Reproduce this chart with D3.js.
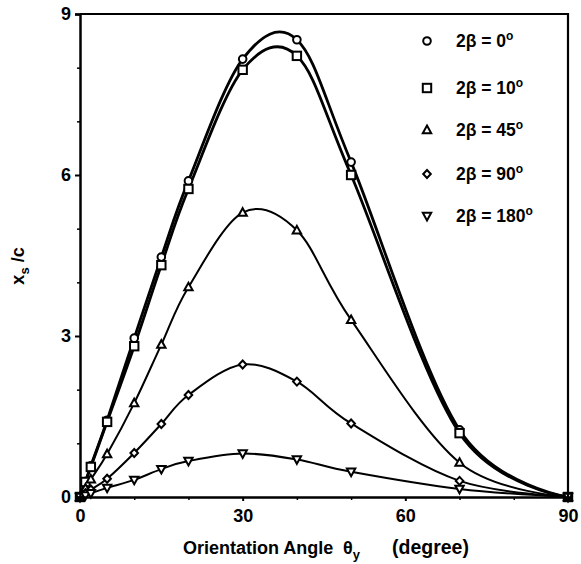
<!DOCTYPE html>
<html><head><meta charset="utf-8">
<script src="https://cdn.jsdelivr.net/npm/d3@7"></script>
<style>body{margin:0;background:#fff}svg{display:block}text{font-family:"Liberation Sans",Arial,sans-serif;font-weight:bold;fill:#000}</style>
</head><body><svg id="c" width="581" height="564"></svg>
<script>
const angles = [0, 1, 2, 5, 10, 15, 20, 30, 40, 50, 70, 90];
const seriesNames = ["2β = 0", "2β = 10", "2β = 45", "2β = 90", "2β = 180"];
const beta0   = [0, 0.29, 0.58, 1.43, 2.96, 4.47, 5.89, 8.16, 8.52, 6.24, 1.25, 0];
const beta10  = [0, 0.28, 0.56, 1.40, 2.81, 4.32, 5.74, 7.96, 8.22, 6.00, 1.19, 0];
const beta45  = [0, 0.16, 0.33, 0.80, 1.75, 2.84, 3.91, 5.30, 4.97, 3.30, 0.64, 0];
const beta90  = [0, 0.07, 0.14, 0.34, 0.82, 1.36, 1.90, 2.47, 2.15, 1.37, 0.30, 0];
const beta180 = [0, 0.03, 0.07, 0.17, 0.32, 0.52, 0.67, 0.81, 0.70, 0.47, 0.15, 0];
const xTicks = [0, 30, 60, 90];
const yTicks = [0, 3, 6, 9];
const xMinor = [10, 20, 40, 50, 70, 80];
const yMinor = [1, 2, 4, 5, 7, 8];

const svg = d3.select("#c");
const x = d3.scaleLinear().domain([0, 90]).range([80, 568]);
const y = d3.scaleLinear().domain([0, 9]).range([497, 14]);

const series = [
  {name: seriesNames[0], vals: beta0, sym: "circle", w: 2.8},
  {name: seriesNames[1], vals: beta10, sym: "square", w: 2.8},
  {name: seriesNames[2], vals: beta45, sym: "triangle", w: 2},
  {name: seriesNames[3], vals: beta90, sym: "diamond", w: 2},
  {name: seriesNames[4], vals: beta180, sym: "tridown", w: 2}
];

function marker(g, sym, cx, cy) {
  if (sym === "circle") g.append("circle").attr("cx", cx).attr("cy", cy).attr("r", 3.8);
  else if (sym === "square") g.append("rect").attr("x", cx-4.2).attr("y", cy-4.2).attr("width", 8.4).attr("height", 8.4);
  else if (sym === "triangle") g.append("path").attr("d", `M${cx},${cy-4.4}L${cx+4.2},${cy+3.2}L${cx-4.2},${cy+3.2}Z`);
  else if (sym === "diamond") g.append("path").attr("d", `M${cx},${cy-4}L${cx+3.8},${cy}L${cx},${cy+4}L${cx-3.8},${cy}Z`);
  else if (sym === "tridown") g.append("path").attr("d", `M${cx},${cy+4.4}L${cx+4.2},${cy-3.2}L${cx-4.2},${cy-3.2}Z`);
}

// curves
const line = d3.line().x(d => x(d[0])).y(d => y(d[1])).curve(d3.curveCardinal.tension(0));
series.forEach(s => {
  const pts = angles.map((a, i) => [a, s.vals[i]]);
  svg.append("path").attr("d", line(pts)).attr("fill", "none").attr("stroke", "#000").attr("stroke-width", s.w);
});
// markers
series.forEach(s => {
  const g = svg.append("g").attr("fill", "#fff").attr("stroke", "#000").attr("stroke-width", 2);
  angles.forEach((a, i) => marker(g, s.sym, x(a), y(s.vals[i])));
});

// frame
svg.append("path").attr("d", `M${x(0)},${y(9)}H${x(90)}V${y(0)}`).attr("fill", "none").attr("stroke", "#000").attr("stroke-width", 2.2);

// axes
const xAxis = svg.append("g").attr("transform", `translate(0,${y(0)})`)
  .call(d3.axisBottom(x).tickValues(xTicks).tickSize(4).tickPadding(8).tickFormat(d3.format("d")));
xAxis.select(".domain").attr("stroke-width", 2.5);
xAxis.selectAll(".tick line").attr("stroke-width", 2);
xAxis.selectAll("text").style("font-size", "18px").attr("fill", "#000");
svg.append("g").attr("transform", `translate(0,${y(0)})`)
  .call(d3.axisBottom(x).tickValues(xMinor).tickSize(3).tickFormat(""))
  .call(g => g.select(".domain").remove())
  .selectAll(".tick line").attr("stroke-width", 1.5);

const yAxis = svg.append("g").attr("transform", `translate(${x(0)},0)`)
  .call(d3.axisLeft(y).tickValues(yTicks).tickSize(5).tickPadding(4).tickFormat(d3.format("d")));
yAxis.select(".domain").attr("stroke-width", 2.5);
yAxis.selectAll(".tick line").attr("stroke-width", 2);
yAxis.selectAll("text").style("font-size", "18px").attr("fill", "#000");
svg.append("g").attr("transform", `translate(${x(0)},0)`)
  .call(d3.axisLeft(y).tickValues(yMinor).tickSize(3).tickFormat(""))
  .call(g => g.select(".domain").remove())
  .selectAll(".tick line").attr("stroke-width", 1.5);

// axis titles
const xt = svg.append("text").attr("x", 183).attr("y", 554).style("font-size", "18px");
xt.append("tspan").text("Orientation Angle");
xt.append("tspan").attr("x", 343).text("θ");
xt.append("tspan").attr("dy", 5).style("font-size", "13px").text("y");
xt.append("tspan").attr("dy", -5).attr("x", 392).style("font-size", "19.5px").text("(degree)");

const yt = svg.append("text").attr("transform", "translate(24,266) rotate(-90)").attr("text-anchor", "middle").style("font-size", "18px");
yt.append("tspan").text("x");
yt.append("tspan").attr("dy", 5).style("font-size", "13px").text("s");
yt.append("tspan").attr("dy", -5).text(" /c");

// legend
const legY = [41, 88, 130, 174, 216];
series.forEach((s, i) => {
  const g = svg.append("g").attr("fill", "#fff").attr("stroke", "#000").attr("stroke-width", 2);
  marker(g, s.sym, 427, legY[i]);
  const t = svg.append("text").attr("x", 456).attr("y", legY[i] + 6).style("font-size", "17.5px");
  t.append("tspan").text(s.name);
  t.append("tspan").attr("dy", -7).style("font-size", "12px").text("o");
});
</script></body></html>
